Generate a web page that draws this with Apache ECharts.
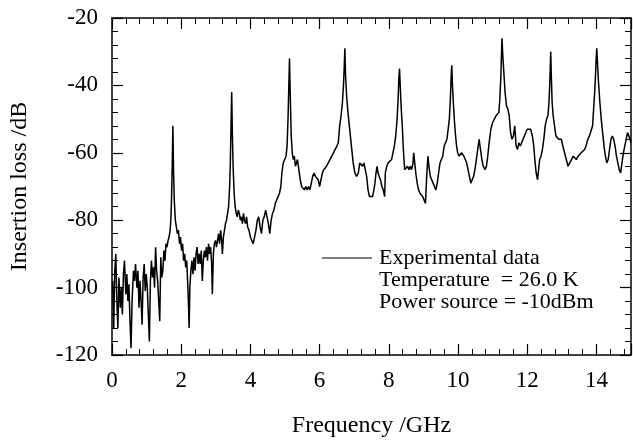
<!DOCTYPE html>
<html>
<head>
<meta charset="utf-8">
<title>Insertion loss</title>
<script src="https://cdn.jsdelivr.net/npm/echarts@6/dist/echarts.min.js"></script>
<style>
    html, body { margin: 0; padding: 0; background: #fff; }
    #chart { width: 633px; height: 443px; }
</style>
</head>
<body>
<div id="chart"></div>
<script>
    // frequency (GHz), one line per resonance segment
    var freq = [
        0.02,0.05,0.08,0.11,0.14,0.17,0.20,0.24,0.27,0.30,0.33,0.36,0.40,0.43,0.46,0.49,0.52,0.55,0.58,0.62,0.65,0.68,0.72,0.75,0.78,0.81,0.84,0.87,0.90,0.93,0.96,0.99,1.02,1.05,1.08,1.11,1.14,1.17,1.20,1.23,1.26,1.29,1.32,1.35,1.38,1.41,1.44,1.47,1.50,1.53,1.56,1.59,1.62,1.65,1.68,1.70,
        1.72,1.74,1.76,1.78,1.80,1.83,1.86,1.89,1.92,1.95,1.98,2.01,2.04,2.07,2.10,2.13,2.16,2.19,2.21,2.23,2.25,2.28,2.31,2.34,2.37,2.40,2.43,2.46,2.49,2.52,2.55,2.58,2.61,2.64,2.67,2.70,2.73,2.76,2.79,2.82,2.85,2.88,2.90,2.93,2.96,2.99,3.02,3.05,3.08,3.11,3.14,3.17,3.19,3.22,3.25,3.28,3.31,3.34,3.37,3.40,
        3.42,3.44,3.46,3.48,3.50,3.53,3.56,3.59,3.62,3.65,3.68,3.71,3.74,3.77,3.80,3.83,3.86,3.89,3.92,3.96,4.00,4.04,4.08,4.12,4.16,4.20,4.24,4.28,4.32,4.36,4.40,4.44,4.48,4.52,4.56,4.60,4.64,4.68,4.72,4.76,4.80,4.84,4.88,4.91,4.95,4.99,5.03,5.06,
        5.09,5.11,5.13,5.15,5.18,5.21,5.24,5.27,5.30,5.33,5.36,5.40,5.44,5.48,5.52,5.56,5.60,5.64,5.68,5.72,5.76,5.80,5.84,5.88,5.92,5.96,6.00,6.04,6.08,6.12,6.16,6.20,6.25,6.30,6.35,6.40,6.45,6.50,6.54,6.58,6.62,6.66,6.69,6.71,
        6.73,6.75,6.78,6.82,6.86,6.90,6.93,6.97,7.02,7.07,7.12,7.16,7.20,7.24,7.28,7.32,7.36,7.40,7.44,7.48,7.53,7.57,7.60,7.63,7.66,7.69,7.72,7.76,7.80,7.84,7.88,7.90,7.94,7.98,8.03,8.08,8.12,8.16,8.20,8.24,8.27,8.29,
        8.31,8.33,8.36,8.39,8.42,8.46,8.50,8.54,8.58,8.62,8.66,8.70,8.72,8.75,8.78,8.82,8.86,8.90,8.94,8.98,9.02,9.06,9.09,9.13,9.16,9.20,9.24,9.28,9.32,9.36,9.40,9.44,9.48,9.52,9.56,9.60,9.64,9.68,9.72,9.75,9.78,9.80,
        9.82,9.84,9.87,9.90,9.93,9.96,9.99,10.03,10.07,10.10,10.13,10.17,10.21,10.25,10.29,10.33,10.37,10.41,10.45,10.49,10.53,10.57,10.61,10.65,10.69,10.73,10.78,10.82,10.86,10.90,10.95,11.00,11.05,11.10,11.14,11.18,11.21,11.24,
        11.27,11.30,11.33,11.36,11.40,11.44,11.48,11.52,11.56,11.60,11.64,11.68,11.72,11.76,11.80,11.84,11.88,11.92,11.96,12.00,12.05,12.10,12.15,12.19,12.22,12.26,12.30,12.33,12.36,12.40,12.44,12.48,12.52,12.56,12.60,12.63,12.65,12.68,
        12.70,12.72,12.75,12.79,12.83,12.87,12.91,12.95,12.99,13.03,13.08,13.13,13.18,13.23,13.28,13.33,13.37,13.42,13.47,13.52,13.56,13.61,13.66,13.70,13.75,13.80,13.85,13.89,13.92,13.95,13.97,13.99,14.01,14.04,14.06,14.10,14.14,14.18,14.22,14.26,14.30,14.34,14.38,14.42,14.46,14.50,14.54,14.58,14.62,14.66,14.70,14.74,14.78,14.82,14.86,14.90,14.94,14.97,15.00
    ];
    // insertion loss (dB), same order as freq
    var loss = [
        -98,-112,-95,-90,-104,-112,-97,-106,-100,-108,-96,-92,-102,-96,-104,-99,-110,-118,-104,-95,-98,-93,-100,-95,-106,-98,-104,-111,-97,-93,-101,-96,-100,-108,-116,-98,-92,-97,-94,-100,-88,-95,-98,-104,-110,-91,-97,-95,-89,-92,-87,-88,-86,-85,-83,-80,
        -74,-64,-52,-66,-74,-80,-82,-84,-83,-87,-85,-89,-87,-92,-90,-94,-92,-99,-105,-112,-100,-95,-92,-96,-91,-95,-90,-88,-93,-90,-93,-89,-98,-92,-89,-91,-88,-92,-87,-90,-88,-93,-102,-90,-87,-86,-88,-86,-84,-87,-83,-86,-90,-85,-83,-81,-80,-78,-76,-70,
        -63,-52,-42,-55,-64,-72,-76,-78,-79,-77,-78,-80,-79,-81,-78,-80,-81,-79,-82,-83,-85,-86,-87,-85,-83,-80,-79,-82,-84,-80,-79,-77,-79,-81,-84,-80,-78,-77,-75,-74,-73,-72,-70,-66,-63,-62,-61,-58,
        -49,-40,-32,-42,-55,-60,-62,-61,-64,-63,-62,-65,-68,-70,-70,-71,-70,-71,-70,-71,-69,-67,-66,-67,-67,-68,-70,-68,-66,-65,-65,-64,-63,-62,-61,-60,-59,-58,-57,-52,-49,-45,-40,-35,
        -29,-37,-43,-48,-52,-56,-59,-63,-66,-67,-66,-63,-63,-64,-63,-65,-67,-71,-73,-73,-73,-71,-69,-66,-64,-66,-67,-68,-70,-71,-73,-66,-64,-63,-63,-62,-60,-58,-55,-50,-44,-38,
        -35,-40,-47,-52,-59,-65,-65,-64,-65,-64,-65,-63,-60,-63,-66,-69,-71,-72,-72,-73,-73,-75,-68,-61,-64,-67,-68,-69,-70,-71,-69,-66,-63,-62,-61,-58,-57,-56,-56,-50,-44,-38,
        -34,-40,-46,-51,-55,-58,-60,-61,-61,-60,-60,-61,-62,-63,-65,-67,-69,-68,-67,-65,-62,-59,-56,-59,-62,-64,-65,-64,-61,-57,-53,-51,-50,-49,-49,-48,-44,-37,
        -26,-32,-37,-42,-46,-47,-49,-54,-56,-55,-52,-58,-59,-57,-58,-57,-56,-55,-54,-53,-53,-53,-55,-58,-62,-66,-68,-65,-62,-61,-59,-56,-52,-50,-49,-45,-40,-30,
        -38,-45,-49,-52,-55,-55,-56,-56,-56,-58,-60,-62,-64,-63,-62,-61,-61,-62,-61,-61,-60,-60,-59,-58,-56,-55,-55,-52,-47,-42,-38,-33,-29,-35,-39,-45,-50,-54,-58,-61,-63,-62,-59,-56,-55,-56,-58,-61,-63,-65,-66,-63,-60,-58,-56,-54,-55,-56,-57
    ];
    var seriesName = 'Experimental data';
    var notes = ['Temperature  = 26.0 K', 'Power source = -10dBm'];

    var serif = '"Liberation Serif", "DejaVu Serif", serif';
    var black = '#000';

    let points = freq.map(function (f, i) { return [f, loss[i]]; });

    let axisLine = { onZero: false, lineStyle: { color: black, width: 1.5 } };
    let axisTick = { inside: true, length: 11, lineStyle: { color: black, width: 1.2 } };
    let minorTick = { show: true, splitNumber: 5, length: 6, lineStyle: { color: black, width: 1 } };
    let labelStyle = { fontFamily: serif, fontSize: 23, color: black };

    let myChart = echarts.init(document.getElementById('chart'));
    let option = {
        animation: false,
        backgroundColor: '#fff',
        grid: { left: 109, right: 2, top: 18, bottom: 87 },
        legend: {
            data: [seriesName],
            left: 317,
            top: 242,
            icon: 'rect',
            itemWidth: 50,
            itemHeight: 1.2,
            textStyle: { fontFamily: serif, fontSize: 22, color: black, padding: [0, 0, 0, 2] }
        },
        xAxis: [
            {
                type: 'value', min: 0, max: 15, interval: 2, position: 'bottom',
                name: 'Frequency /GHz', nameLocation: 'middle', nameGap: 59,
                nameTextStyle: { fontFamily: serif, fontSize: 24, color: black },
                axisLine: axisLine, axisTick: axisTick, minorTick: minorTick,
                axisLabel: Object.assign({ margin: 14, showMaxLabel: false }, labelStyle),
                splitLine: { show: false }
            },
            {
                type: 'value', min: 0, max: 15, interval: 2, position: 'top',
                axisLine: axisLine, axisTick: axisTick, minorTick: minorTick,
                axisLabel: { show: false }, splitLine: { show: false }
            }
        ],
        yAxis: [
            {
                type: 'value', min: -120, max: -20, interval: 20, position: 'left',
                name: 'Insertion loss /dB', nameLocation: 'middle', nameGap: 80,
                nameTextStyle: { fontFamily: serif, fontSize: 24, color: black },
                axisLine: axisLine, axisTick: axisTick, minorTick: minorTick,
                axisLabel: Object.assign({ margin: 14 }, labelStyle),
                splitLine: { show: false }
            },
            {
                type: 'value', min: -120, max: -20, interval: 20, position: 'right',
                axisLine: axisLine, axisTick: axisTick, minorTick: minorTick,
                axisLabel: { show: false }, splitLine: { show: false }
            }
        ],
        graphic: notes.map(function (t, i) {
            return {
                type: 'text', left: 379, top: 269 + i * 22,
                style: { text: t, font: '22px ' + serif, fill: black }
            };
        }),
        series: [
            {
                name: seriesName,
                type: 'line',
                data: points,
                showSymbol: false,
                symbol: 'none',
                itemStyle: { color: black },
                lineStyle: { color: black, width: 1.5 }
            }
        ]
    };
    myChart.setOption(option);
</script>
</body>
</html>
